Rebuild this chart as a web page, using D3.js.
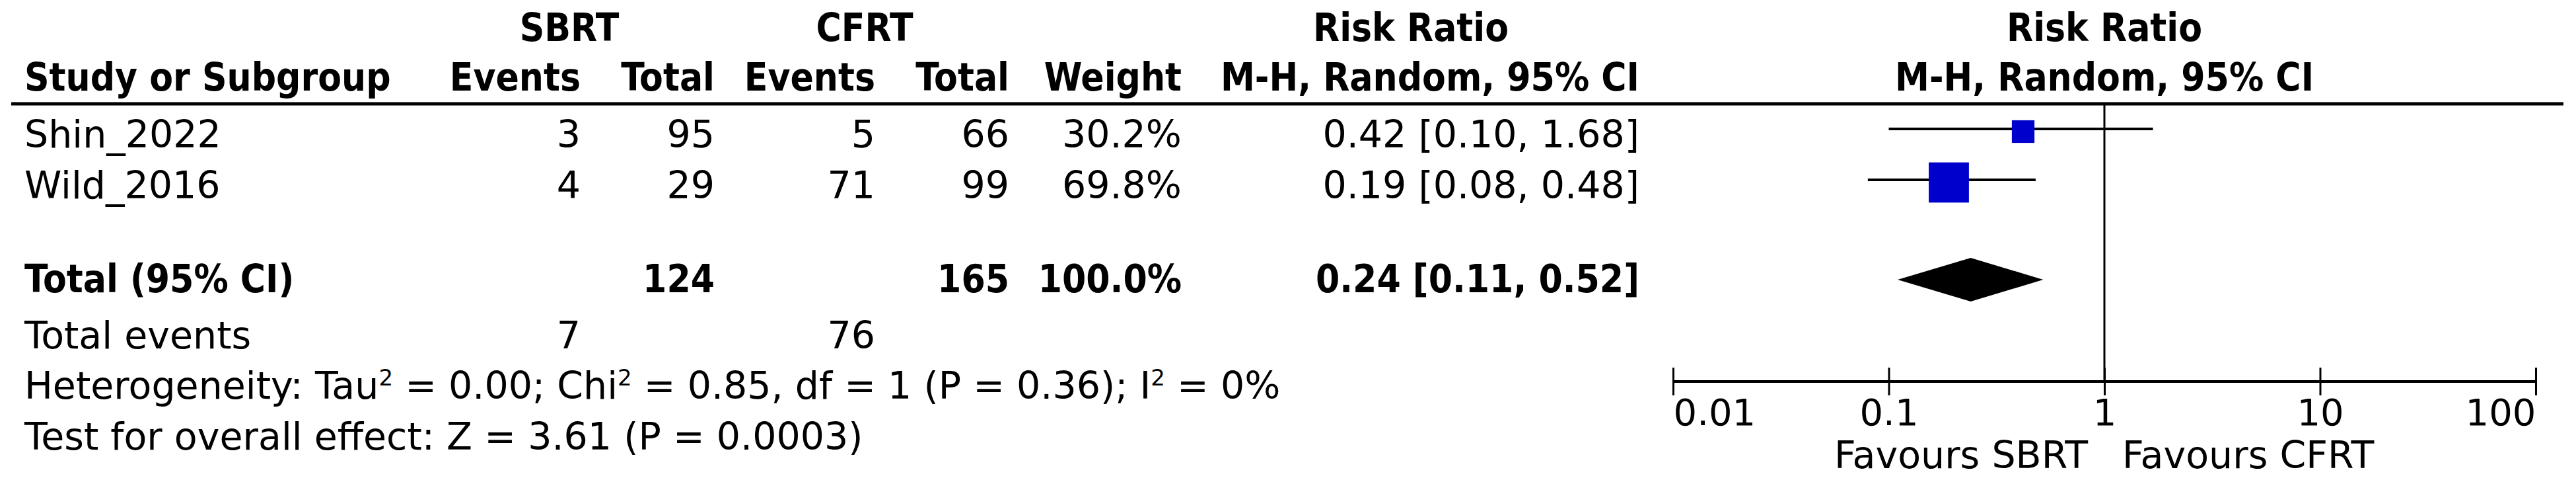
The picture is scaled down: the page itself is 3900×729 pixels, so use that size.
<!DOCTYPE html>
<html>
<head>
<meta charset="utf-8">
<script src="https://cdn.jsdelivr.net/npm/d3@7/dist/d3.min.js"></script>
<style>
  body { margin: 0; background: #fff; }
  text { font-family: "DejaVu Sans", Verdana, sans-serif; fill: #000; }
  text.b { font-family: "DejaVu Sans Condensed", "DejaVu Sans", sans-serif; font-stretch: condensed; font-weight: bold; }
</style>
</head>
<body>
<div id="chart"></div>
<script>
// data
var studies = ["Shin_2022", "Wild_2016"];
var sbrtEvents = [3, 4];
var sbrtTotal = [95, 29];
var cfrtEvents = [5, 71];
var cfrtTotal = [66, 99];
var weights = [30.2, 69.8];
var rr = [0.42, 0.19];
var rrLow = [0.10, 0.08];
var rrHigh = [1.68, 0.48];

var pooled = {rr: 0.24, low: 0.11, high: 0.52, sbrtTotal: 124, cfrtTotal: 165, weight: 100.0};
var totalEvents = [7, 76];
var tickValues = [0.01, 0.1, 1, 10, 100];
var tickLabels = ["0.01", "0.1", "1", "10", "100"];

var width = 3900, height = 729;
var fs = 57, fsBold = 58;

var svg = d3.select("#chart").append("svg")
    .attr("width", width)
    .attr("height", height);

var x = d3.scaleLog().domain([0.01, 100]).range([2533, 3839]);
var side = d3.scaleLinear().domain([0, 100]).range([14, 81]);

var rowY = d3.scalePoint().domain(studies).range([195, 272]);
var rowText = 28; // baseline offset from the CI line

function fmt(v) { return v.toFixed(2); }

function txt(xp, yp, s, anchor, bold) {
    return svg.append("text")
        .attr("class", bold ? "b" : null)
        .attr("x", xp).attr("y", yp)
        .attr("text-anchor", anchor || "start")
        .attr("font-size", bold ? fsBold : fs)
        .text(s);
}

// header
txt(862, 62, "SBRT", "middle", true);
txt(1309, 62, "CFRT", "middle", true);
txt(2136, 62, "Risk Ratio", "middle", true);
txt(x(1), 62, "Risk Ratio", "middle", true);

txt(37, 137, "Study or Subgroup", "start", true);
txt(879, 137, "Events", "end", true);
txt(1082, 137, "Total", "end", true);
txt(1325, 137, "Events", "end", true);
txt(1528, 137, "Total", "end", true);
txt(1789, 137, "Weight", "end", true);
txt(2482, 137, "M-H, Random, 95% CI", "end", true);
txt(x(1), 137, "M-H, Random, 95% CI", "middle", true);

svg.append("line")
    .attr("x1", 17).attr("x2", 3881)
    .attr("y1", 157).attr("y2", 157)
    .attr("stroke", "#000").attr("stroke-width", 5);

// study rows
studies.forEach(function(s, i) {
    var y = rowY(s) + rowText;
    txt(37, y, s);
    txt(879, y, sbrtEvents[i], "end");
    txt(1082, y, sbrtTotal[i], "end");
    txt(1325, y, cfrtEvents[i], "end");
    txt(1528, y, cfrtTotal[i], "end");
    txt(1789, y, weights[i].toFixed(1) + "%", "end");
    txt(2482, y, fmt(rr[i]) + " [" + fmt(rrLow[i]) + ", " + fmt(rrHigh[i]) + "]", "end");
});

// null line
svg.append("line")
    .attr("x1", x(1)).attr("x2", x(1))
    .attr("y1", 157).attr("y2", 577)
    .attr("stroke", "#000").attr("stroke-width", 3);

// CIs and squares
svg.selectAll(".ci").data(studies).enter().append("line")
    .attr("class", "ci")
    .attr("x1", function(d, i) { return x(rrLow[i]); })
    .attr("x2", function(d, i) { return x(rrHigh[i]); })
    .attr("y1", function(d) { return rowY(d); })
    .attr("y2", function(d) { return rowY(d); })
    .attr("stroke", "#000").attr("stroke-width", 4);

svg.selectAll(".sq").data(studies).enter().append("rect")
    .attr("class", "sq")
    .attr("x", function(d, i) { return x(rr[i]) - side(weights[i]) / 2; })
    .attr("y", function(d, i) { return rowY(d) + 4 - side(weights[i]) / 2; })
    .attr("width", function(d, i) { return side(weights[i]); })
    .attr("height", function(d, i) { return side(weights[i]); })
    .attr("fill", "#0000cc");

// total row
var totY = 442;
txt(37, totY, "Total (95% CI)", "start", true);
txt(1082, totY, pooled.sbrtTotal, "end", true);
txt(1528, totY, pooled.cfrtTotal, "end", true);
txt(1789, totY, pooled.weight.toFixed(1) + "%", "end", true);
txt(2482, totY, fmt(pooled.rr) + " [" + fmt(pooled.low) + ", " + fmt(pooled.high) + "]", "end", true);

var dY = 423, dH = 33;
svg.append("path")
    .attr("d", "M" + x(pooled.low) + "," + dY +
               "L" + x(pooled.rr) + "," + (dY - dH) +
               "L" + x(pooled.high) + "," + dY +
               "L" + x(pooled.rr) + "," + (dY + dH) + "Z")
    .attr("fill", "#000");

txt(37, 527, "Total events");
txt(879, 527, totalEvents[0], "end");
txt(1325, 527, totalEvents[1], "end");

// heterogeneity line with superscripts
var het = svg.append("text").attr("x", 37).attr("y", 603).attr("font-size", fs);
function sup(t) {
    t.append("tspan").attr("font-size", 34).attr("dy", -20).text("2");
}
het.append("tspan").text("Heterogeneity: Tau");
sup(het);
het.append("tspan").attr("dy", 20).text(" = 0.00; Chi");
sup(het);
het.append("tspan").attr("dy", 20).text(" = 0.85, df = 1 (P = 0.36); I");
sup(het);
het.append("tspan").attr("dy", 20).text(" = 0%");

txt(37, 680, "Test for overall effect: Z = 3.61 (P = 0.0003)");

// axis
var axis = d3.axisBottom(x)
    .tickValues(tickValues)
    .tickFormat(function(d, i) { return tickLabels[i]; })
    .tickSizeOuter(0);

var ax = svg.append("g").attr("transform", "translate(0,577)").call(axis);
ax.select(".domain").attr("stroke-width", 4).attr("d", "M" + x(0.01) + ",0H" + x(100));
ax.selectAll(".tick line").attr("y1", -21).attr("y2", 21).attr("stroke-width", 3);
ax.selectAll(".tick text")
    .attr("y", 66).attr("dy", null)
    .attr("font-size", 56)
    .attr("font-family", "DejaVu Sans")
    .attr("text-anchor", function(d, i) { return i === 0 ? "start" : (i === tickValues.length - 1 ? "end" : "middle"); });

txt(x(1) - 25, 708, "Favours SBRT", "end");
txt(x(1) + 27, 708, "Favours CFRT", "start");
</script>
</body>
</html>
